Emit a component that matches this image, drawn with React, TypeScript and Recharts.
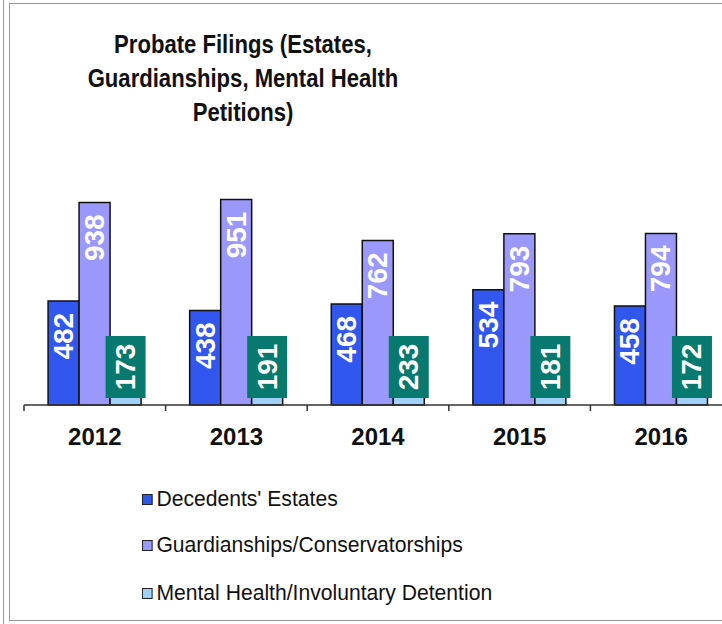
import React from "react";
import { BarChart, Bar, XAxis, YAxis, LabelList } from "recharts";

const years = ["2012", "2013", "2014", "2015", "2016"];
const estates = [482, 438, 468, 534, 458];
const guardianships = [938, 951, 762, 793, 794];
const mentalHealth = [173, 191, 233, 181, 172];

const titleLines = [
  "Probate Filings (Estates,",
  "Guardianships, Mental Health",
  "Petitions)",
];

const seriesNames = [
  "Decedents' Estates",
  "Guardianships/Conservatorships",
  "Mental Health/Involuntary Detention",
];
const seriesColors = ["#3157ee", "#9b98fb", "#9fd0f7"];

const data = years.map((year, i) => ({
  year,
  estates: estates[i],
  guardianships: guardianships[i],
  mentalHealth: mentalHealth[i],
}));

const FONT = "'Liberation Sans', Arial, sans-serif";
const CHART_W = 760;
const MARGIN = { top: 189, right: 28, left: 24, bottom: 0 };
const BAND = (CHART_W - MARGIN.left - MARGIN.right) / years.length;

function YearTick({ x, payload }: any) {
  return (
    <g>
      <line x1={x - BAND / 2} x2={x - BAND / 2} y1={405} y2={411} stroke="#333" strokeWidth={1.5} />
      <text
        x={x}
        y={445}
        textAnchor="middle"
        fontFamily={FONT}
        fontWeight="bold"
        fontSize={24}
        fill="#111"
      >
        {payload.value}
      </text>
    </g>
  );
}

function TopLabel({ x, y, width, value }: any) {
  const cx = x + width / 2;
  const ty = y + 12;
  return (
    <text
      x={cx}
      y={ty}
      transform={`rotate(-90 ${cx} ${ty})`}
      textAnchor="end"
      dominantBaseline="central"
      fontFamily={FONT}
      fontWeight="bold"
      fontSize={28}
      fill="#fff"
    >
      {value}
    </text>
  );
}

function BoxLabel({ x, y, width, height, value }: any) {
  const cx = x + width / 2;
  const base = y + height;
  const cy = base - 38;
  return (
    <g>
      <rect x={cx - 20} y={base - 69} width={40} height={62} fill="#08796f" />
      <text
        x={cx}
        y={cy}
        transform={`rotate(-90 ${cx} ${cy})`}
        textAnchor="middle"
        dominantBaseline="central"
        fontFamily={FONT}
        fontWeight="bold"
        fontSize={28}
        fill="#fff"
      >
        {value}
      </text>
    </g>
  );
}

export default function App() {
  return (
    <div
      style={{
        position: "fixed",
        left: 0,
        top: 0,
        width: 722,
        height: 624,
        overflow: "hidden",
        background: "#fff",
      }}
    >
      <div style={{ position: "absolute", left: 3, top: 0, width: 0, height: 624, borderLeft: "1.5px solid #999" }} />
      <div
        style={{
          position: "absolute",
          left: 9,
          top: 3,
          width: 760,
          height: 616,
          border: "1.5px solid #999",
        }}
      />
      <div
        style={{
          position: "absolute",
          left: 43,
          top: 27,
          width: 400,
          textAlign: "center",
          fontFamily: FONT,
          fontWeight: "bold",
          fontSize: 26,
          lineHeight: "34px",
          color: "#111",
          transform: "scaleX(0.85)",
        }}
      >
        {titleLines.map((l) => (
          <div key={l}>{l}</div>
        ))}
      </div>
      <div style={{ position: "absolute", left: 0, top: 0 }}>
        <BarChart
          width={CHART_W}
          height={470}
          data={data}
          margin={MARGIN}
          barCategoryGap="17%"
          barGap={0}
        >
          <XAxis
            dataKey="year"
            height={65}
            axisLine={{ stroke: "#333", strokeWidth: 1.5 }}
            tickLine={false}
            tick={<YearTick />}
            interval={0}
          />
          <YAxis hide domain={[0, 1000]} />
          <Bar dataKey="estates" fill={seriesColors[0]} stroke="#111" strokeWidth={1.5} isAnimationActive={false}>
            <LabelList dataKey="estates" content={<TopLabel />} />
          </Bar>
          <Bar dataKey="guardianships" fill={seriesColors[1]} stroke="#111" strokeWidth={1.5} isAnimationActive={false}>
            <LabelList dataKey="guardianships" content={<TopLabel />} />
          </Bar>
          <Bar dataKey="mentalHealth" fill={seriesColors[2]} stroke="#111" strokeWidth={1.5} isAnimationActive={false}>
            <LabelList dataKey="mentalHealth" content={<BoxLabel />} />
          </Bar>
        </BarChart>
      </div>
      {seriesNames.map((name, i) => (
        <div
          key={name}
          style={{
            position: "absolute",
            left: 142,
            top: [499, 545, 593][i] - 13,
            height: 26,
            display: "flex",
            alignItems: "center",
            fontFamily: FONT,
            fontSize: 22,
            color: "#111",
            whiteSpace: "nowrap",
            transform: "scaleX(0.96)",
            transformOrigin: "left center",
          }}
        >
          <span
            style={{
              display: "inline-block",
              width: 9,
              height: 9,
              border: "1.5px solid #222",
              background: seriesColors[i],
              marginRight: 4,
            }}
          />
          {name}
        </div>
      ))}
    </div>
  );
}
